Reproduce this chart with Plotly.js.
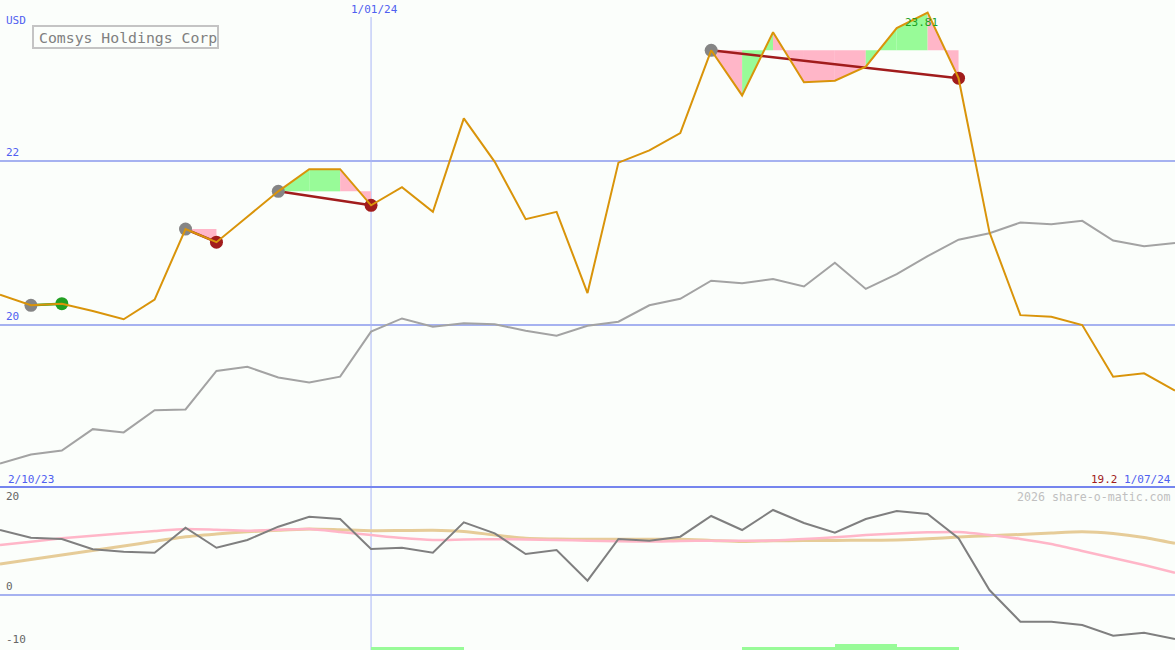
<!DOCTYPE html>
<html>
<head>
<meta charset="utf-8">
<script src="https://cdn.plot.ly/plotly-3.0.1.min.js"></script>
<style>
html,body{margin:0;padding:0;background:#fbfefb;}
#chart{width:1175px;height:650px;}
</style>
</head>
<body>
<div id="chart"></div>
<script>
// ---------- DATA ----------
const week = [0,1,2,3,4,5,6,7,8,9,10,11,12,13,14,15,16,17,18,19,20,21,22,23,24,25,26,27,28,29,30,31,32,33,34,35,36,37,38];

const price = [20.37,20.24,20.26,20.17,20.07,20.31,21.17,21.01,21.32,21.63,21.90,21.90,21.46,21.68,21.38,22.52,21.99,21.29,21.38,20.39,
               21.98,22.13,22.34,23.35,22.80,23.57,22.96,22.98,23.15,23.62,23.81,23.01,21.13,20.12,20.10,20.00,19.37,19.41,19.20];

const benchmark = [18.31,18.42,18.47,18.73,18.69,18.96,18.97,19.44,19.49,19.36,19.30,19.37,19.92,20.08,19.98,20.02,20.01,19.93,19.87,19.99,
                   20.04,20.24,20.32,20.54,20.51,20.56,20.47,20.76,20.44,20.62,20.84,21.04,21.12,21.25,21.23,21.27,21.03,20.96,21.00];

const momentum = [12.26,10.81,10.57,8.62,8.17,7.98,12.70,8.92,10.38,12.89,14.77,14.34,8.68,8.92,7.98,13.72,11.64,7.74,8.49,2.70,
                  10.57,10.25,11.00,14.91,12.26,16.04,13.58,11.75,14.34,15.85,15.28,10.70,0.94,-5.04,-5.04,-5.66,-7.68,-7.11,-8.30];

const avgFast = [9.43,10.06,10.70,11.17,11.64,12.08,12.45,12.30,12.13,12.30,12.45,11.89,11.32,10.75,10.38,10.47,10.53,10.47,10.38,10.25,
                 10.15,10.08,10.19,10.25,10.25,10.28,10.57,10.89,11.32,11.60,11.83,11.89,11.32,10.57,9.62,8.30,6.98,5.66,4.21];

const avgSlow = [5.85,6.70,7.55,8.40,9.25,10.13,11.00,11.51,11.94,12.21,12.45,12.30,12.13,12.17,12.23,11.98,11.32,10.72,10.57,10.51,
                 10.51,10.51,10.51,10.30,10.09,10.23,10.26,10.30,10.34,10.38,10.60,10.94,11.19,11.42,11.70,11.92,11.60,10.85,9.75];

// signal runs (start week index, end week index)
const sigStart = [1, 6, 9, 23];
const sigEnd   = [2, 7, 12, 31];

// small signal bars in lower panel
const barWeek  = [12,13,14,24,25,26,27,28,29,30];
const barValue = [0.6,0.6,0.6,0.6,0.6,0.6,1.15,1.15,0.6,0.6];

// tick labels
const priceTicks = [22, 20];
const priceTickText = ['22', '20'];
const lowTicks = [20, 0, -10];
const lowTickText = ['20', '0', '-10'];
const dateTickWeek = [0, 12, 38];
const dateTickText = ['2/10/23', '1/01/24', '1/07/24'];

const companyName = 'Comsys Holdings Corp';
const currency = 'USD';
const credit = '2026 share-o-matic.com';

// ---------- STYLE / LAYOUT ----------
const W = 1175, H = 650;
const BG = '#fbfefb';
const FONT = 'DejaVu Sans Mono, Liberation Mono, monospace';
const ORANGE = '#d9940a';
const GRID = '#a6b2f0';
const SEP = '#7585ee';
const LBL = '#4f60f0';
const RED = '#a11c1c';
const GREENDOT = '#22a022';
const GREENFILL = '#98fb98';
const PINKFILL = '#ffb6c8';

const mainTopPx = 0, mainBotPx = 487, lowTopPx = 489, lowBotPx = 650;
const yMainRange = [18.0244, 23.9634];
const yLowRange = [-10.377, 20];
const xRange = [week[0], week[week.length - 1]];

const px = v => v / W;
const py = v => 1 - v / H;

const traces = [];

// benchmark line
traces.push({x: week, y: benchmark, mode: 'lines', line: {color: '#a3a3a3', width: 2},
             hoverinfo: 'skip', xaxis: 'x', yaxis: 'y'});

// signal fills
sigStart.forEach((s, k) => {
  const e = sigEnd[k], lvl = price[s];
  for (let i = s; i < e; i++) {
    const up = price[i + 1] > lvl;
    traces.push({
      x: [week[i], week[i + 1], week[i + 1], week[i], week[i]],
      y: [price[i], price[i + 1], lvl, lvl, price[i]],
      mode: 'lines', fill: 'toself', fillcolor: up ? GREENFILL : PINKFILL,
      line: {width: 0, color: 'rgba(0,0,0,0)'}, hoverinfo: 'skip', xaxis: 'x', yaxis: 'y'
    });
  }
});

// trend lines
sigStart.forEach((s, k) => {
  const e = sigEnd[k];
  const up = price[e] > price[s];
  traces.push({x: [week[s], week[e]], y: [price[s], price[e]], mode: 'lines',
               line: {color: up ? GREENDOT : RED, width: 2.5}, hoverinfo: 'skip', xaxis: 'x', yaxis: 'y'});
});

// dots
traces.push({x: sigStart.map(i => week[i]), y: sigStart.map(i => price[i]), mode: 'markers',
             marker: {color: '#858585', size: 13}, hoverinfo: 'skip', xaxis: 'x', yaxis: 'y'});
traces.push({x: sigEnd.map(i => week[i]), y: sigEnd.map(i => price[i]), mode: 'markers',
             marker: {color: sigEnd.map((e, k) => price[e] > price[sigStart[k]] ? GREENDOT : RED), size: 13},
             hoverinfo: 'skip', xaxis: 'x', yaxis: 'y'});

// price line
traces.push({x: week, y: price, mode: 'lines', line: {color: ORANGE, width: 2},
             hoverinfo: 'skip', xaxis: 'x', yaxis: 'y'});

// lower panel
traces.push({x: barWeek.map(w => w + 0.5), y: barValue, type: 'bar', width: 1, base: yLowRange[0],
             marker: {color: GREENFILL, line: {width: 0}}, hoverinfo: 'skip', xaxis: 'x2', yaxis: 'y2'});
traces.push({x: week, y: avgSlow, mode: 'lines', line: {color: '#e6cc98', width: 3, shape: 'spline', smoothing: 0.6},
             hoverinfo: 'skip', xaxis: 'x2', yaxis: 'y2'});
traces.push({x: week, y: avgFast, mode: 'lines', line: {color: '#ffb6c8', width: 2.5, shape: 'spline', smoothing: 0.6},
             hoverinfo: 'skip', xaxis: 'x2', yaxis: 'y2'});
traces.push({x: week, y: momentum, mode: 'lines', line: {color: '#7f7f7f', width: 2},
             hoverinfo: 'skip', xaxis: 'x2', yaxis: 'y2'});

// shapes
const shapes = [];
priceTicks.forEach(t => shapes.push({type: 'line', xref: 'paper', yref: 'y', x0: 0, x1: 1, y0: t, y1: t,
                                      line: {color: GRID, width: 2}, layer: 'below'}));
shapes.push({type: 'line', xref: 'paper', yref: 'y2', x0: 0, x1: 1, y0: 0, y1: 0,
             line: {color: GRID, width: 2}, layer: 'below'});
// vertical year line
shapes.push({type: 'line', xref: 'x', yref: 'paper', x0: dateTickWeek[1], x1: dateTickWeek[1],
             y0: py(17), y1: 0, line: {color: '#aab6f6', width: 1}, layer: 'below'});
// panel separator
shapes.push({type: 'line', xref: 'paper', yref: 'paper', x0: 0, x1: 1, y0: py(487), y1: py(487),
             line: {color: SEP, width: 2}});
// name box
shapes.push({type: 'rect', xref: 'paper', yref: 'paper', x0: px(33), x1: px(218), y0: py(26), y1: py(48),
             line: {color: '#c4c4c4', width: 2}, fillcolor: BG});

// annotations
const ann = [];
ann.push({xref: 'paper', yref: 'paper', x: px(38), y: py(37), xanchor: 'left', yanchor: 'middle',
          text: companyName, showarrow: false, font: {family: FONT, size: 14.8, color: '#808080'}, borderpad: 0});
ann.push({xref: 'paper', yref: 'paper', x: px(5), y: py(20), xanchor: 'left', yanchor: 'middle',
          text: currency, showarrow: false, font: {family: FONT, size: 11, color: LBL}, borderpad: 0});
priceTicks.forEach((t, i) => ann.push({xref: 'paper', yref: 'y', x: px(5), y: t, xanchor: 'left', yanchor: 'bottom',
          yshift: 1, text: priceTickText[i], showarrow: false, font: {family: FONT, size: 11, color: LBL}, borderpad: 0}));
lowTicks.forEach((t, i) => ann.push({xref: 'paper', yref: 'y2', x: px(5), y: t, xanchor: 'left',
          yanchor: t >= yLowRange[1] ? 'top' : 'bottom', yshift: t >= yLowRange[1] ? 0 : 1,
          text: lowTickText[i], showarrow: false, font: {family: FONT, size: 11, color: '#666666'}, borderpad: 0}));
// date labels
ann.push({xref: 'x', yref: 'paper', x: dateTickWeek[0], y: py(487), xanchor: 'left', yanchor: 'bottom', xshift: 7,
          text: dateTickText[0], showarrow: false, font: {family: FONT, size: 11, color: LBL}, borderpad: 0});
ann.push({xref: 'x', yref: 'paper', x: dateTickWeek[1], y: py(2), xanchor: 'center', yanchor: 'top', xshift: 3,
          text: dateTickText[1], showarrow: false, font: {family: FONT, size: 11, color: LBL}, borderpad: 0});
ann.push({xref: 'x', yref: 'paper', x: dateTickWeek[2], y: py(487), xanchor: 'right', yanchor: 'bottom', xshift: -3,
          text: '<span style="color:' + RED + '">' + price[price.length - 1].toFixed(1) + '</span> ' + dateTickText[2],
          showarrow: false, font: {family: FONT, size: 11, color: LBL}, borderpad: 0});
// credit
ann.push({xref: 'paper', yref: 'paper', x: px(1172), y: py(489), xanchor: 'right', yanchor: 'top',
          text: credit, showarrow: false, font: {family: FONT, size: 11.6, color: '#c0c0c0'}, borderpad: 0});
// peak label
const maxP = Math.max(...price);
const maxI = price.indexOf(maxP);
ann.push({xref: 'x', yref: 'y', x: week[maxI], y: maxP, xanchor: 'center', yanchor: 'top', xshift: -6, yshift: -2,
          text: maxP.toFixed(2), showarrow: false, font: {family: FONT, size: 11, color: GREENDOT}, borderpad: 0});

const layout = {
  width: W, height: H,
  margin: {l: 0, r: 0, t: 0, b: 0, pad: 0},
  paper_bgcolor: BG, plot_bgcolor: BG,
  showlegend: false,
  hovermode: false,
  bargap: 0,
  xaxis: {range: xRange, visible: false, fixedrange: true, anchor: 'y'},
  xaxis2: {range: xRange, visible: false, fixedrange: true, anchor: 'y2'},
  yaxis: {domain: [1 - mainBotPx / H, 1 - mainTopPx / H], range: yMainRange, visible: false, fixedrange: true},
  yaxis2: {domain: [1 - lowBotPx / H, 1 - lowTopPx / H], range: yLowRange, visible: false, fixedrange: true},
  shapes: shapes,
  annotations: ann
};

Plotly.newPlot('chart', traces, layout, {displayModeBar: false, staticPlot: true});
</script>
</body>
</html>
